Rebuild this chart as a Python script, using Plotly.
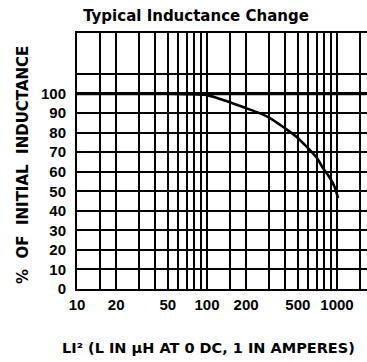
import plotly.graph_objects as go

# Typical inductance change curve: LI² (µH·A²) vs % of initial inductance
li2 = [10, 30, 50, 74, 100, 133, 189, 242, 305, 385, 492, 588, 702, 780, 883, 966, 1018]
pct = [100, 100, 100, 99.7, 99.2, 96.7, 93.1, 90.5, 87.5, 82.9, 77.7, 72.6, 67.0, 61.9, 56.8, 51.7, 46.5]

# log-paper grid: 1, 1.5, 2 ... 9 in each decade
x_grid = [10, 15, 20, 30, 40, 50, 60, 70, 80, 90,
          100, 150, 200, 300, 400, 500, 600, 700, 800, 900,
          1000, 1500]
x_label_values = [10, 20, 50, 100, 200, 500, 1000]
x_label_text = ["10", "20", "50", "100", "200", "500", "1000"]

y_grid = [0, 10, 20, 30, 40, 50, 60, 70, 80, 90, 100, 110]
y_label_values = [0, 10, 20, 30, 40, 50, 60, 70, 80, 90, 100]

x_text = {v: t for v, t in zip(x_label_values, x_label_text)}
x_ticktext = [x_text.get(v, "") for v in x_grid]
y_ticktext = [str(v) if v in y_label_values else "" for v in y_grid]

TICK_FONT = "Liberation Sans, Arial, sans-serif"
TITLE_FONT = "DejaVu Sans, Verdana, sans-serif"

fig = go.Figure()
fig.add_trace(go.Scatter(
    x=li2, y=pct, mode="lines",
    line=dict(color="black", width=2.6, shape="spline", smoothing=0.8),
    hoverinfo="skip", showlegend=False,
))

# heavier reference line at 100 %
fig.add_shape(type="line", xref="paper", x0=0, x1=1, yref="y", y0=100, y1=100,
              line=dict(color="black", width=3.2), layer="above")

fig.update_xaxes(
    type="log", range=[1, 1 + 290 / 130],
    tickmode="array", tickvals=x_grid, ticktext=x_ticktext,
    showgrid=True, gridcolor="black", gridwidth=2,
    showline=True, linecolor="black", linewidth=2, mirror=True,
    ticks="", ticklabelstandoff=1,
    tickfont=dict(family=TICK_FONT, size=15, color="black", weight="bold"),
    zeroline=False,
)
fig.update_yaxes(
    range=[0, 131],
    tickmode="array", tickvals=y_grid, ticktext=y_ticktext,
    showgrid=True, gridcolor="black", gridwidth=2,
    showline=True, linecolor="black", linewidth=2, mirror=False,
    ticks="", ticklabelstandoff=6,
    tickfont=dict(family=TICK_FONT, size=15, color="black", weight="bold"),
    zeroline=False,
)

fig.update_layout(
    width=367, height=362,
    margin=dict(l=77, r=0, t=33, b=73, autoexpand=False),
    paper_bgcolor="white", plot_bgcolor="white",
    title=dict(text="Typical Inductance Change", xref="container", yref="container",
               x=196 / 367, y=1 - 16 / 362, xanchor="center", yanchor="middle",
               font=dict(family=TITLE_FONT, size=15, color="black", weight="bold")),
    annotations=[
        dict(text="%  OF  INITIAL  INDUCTANCE", textangle=-90,
             xref="paper", yref="paper", x=(23 - 77) / 290, y=(289 - 165) / 256,
             xanchor="center", yanchor="middle", showarrow=False,
             font=dict(family=TITLE_FONT, size=15, color="black", weight="bold")),
        dict(text="LI² (L IN µH AT 0 DC, 1 IN AMPERES)",
             xref="paper", yref="paper", x=(208 - 77) / 290, y=-(348 - 289) / 256,
             xanchor="center", yanchor="middle", showarrow=False,
             font=dict(family=TITLE_FONT, size=14.5, color="black", weight="bold")),
    ],
)

fig.write_html("out.html")
